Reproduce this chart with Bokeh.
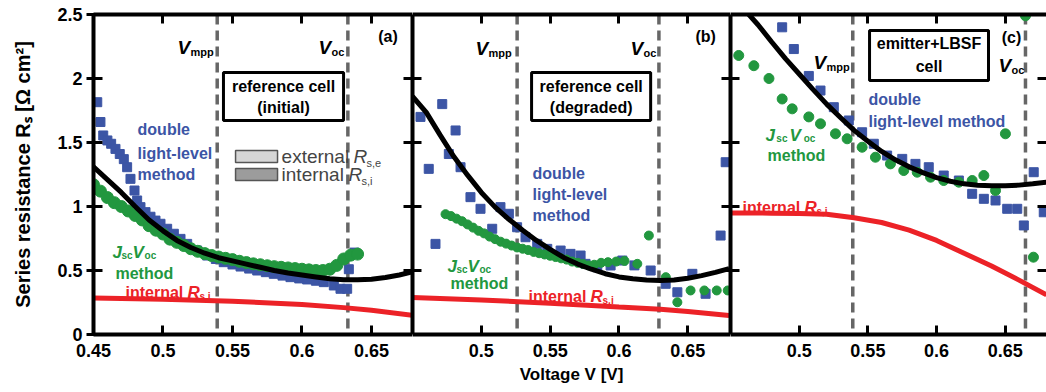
from bokeh.plotting import figure
from bokeh.models import (Range1d, LinearAxis, FixedTicker, Span, BoxAnnotation, Label,
                          CustomJSTickFormatter)
from bokeh.layouts import row
from bokeh.embed import file_html
from bokeh.resources import INLINE

FONT = "Liberation Sans"
BLUE = "#3c55a5"
GREEN = "#22973f"
RED = "#ec2227"
DASHC = "#666666"

x_ticks = [0.45, 0.5, 0.55, 0.6, 0.65]
y_ticks = [0, 0.5, 1, 1.5, 2, 2.5]

# ---------------- panel (a): reference cell (initial) ----------------
a_vmpp, a_voc = 0.539, 0.633
a_fit_v = [0.45, 0.46, 0.47, 0.48, 0.49, 0.50, 0.51, 0.52, 0.53, 0.54, 0.55, 0.56,
           0.57, 0.58, 0.59, 0.60, 0.61, 0.62, 0.63, 0.64, 0.65, 0.66, 0.67, 0.68]
a_fit_r = [1.31, 1.21, 1.11, 1.00, 0.895, 0.81, 0.735, 0.68, 0.635, 0.60, 0.575, 0.55,
           0.525, 0.50, 0.48, 0.465, 0.45, 0.435, 0.428, 0.427, 0.432, 0.445, 0.465, 0.49]
a_int_v = [0.45, 0.50, 0.55, 0.60, 0.63, 0.65, 0.68]
a_int_r = [0.285, 0.275, 0.26, 0.235, 0.21, 0.19, 0.15]
a_dll_v = [0.4527, 0.455, 0.457, 0.460, 0.4627, 0.4658, 0.4689, 0.4718, 0.4742, 0.4766,
           0.4795, 0.4814, 0.4838, 0.4874, 0.491, 0.4946, 0.4982, 0.503, 0.5078, 0.5126,
           0.5174, 0.5246, 0.5318, 0.538, 0.5437, 0.55, 0.5558, 0.562, 0.5678, 0.574,
           0.5797, 0.586, 0.5917, 0.598, 0.6037, 0.61, 0.6157, 0.6229, 0.6277, 0.6325,
           0.6337, 0.6378]
a_dll_r = [1.815, 1.66, 1.555, 1.516, 1.49, 1.45, 1.41, 1.37, 1.307, 1.216,
           1.125, 1.047, 0.995, 0.956, 0.92, 0.89, 0.865, 0.826, 0.787, 0.747,
           0.708, 0.656, 0.617, 0.59, 0.565, 0.547, 0.531, 0.515, 0.50, 0.487,
           0.474, 0.46, 0.448, 0.438, 0.43, 0.42, 0.409, 0.383, 0.357, 0.357,
           0.51, 0.64]
a_jsc_v = [0.450, 0.455, 0.460, 0.465, 0.470, 0.475, 0.480, 0.485, 0.490, 0.495,
           0.500, 0.505, 0.510, 0.515, 0.520, 0.525, 0.530, 0.535, 0.540, 0.545,
           0.550, 0.555, 0.560, 0.565, 0.570, 0.575, 0.580, 0.585, 0.590, 0.595,
           0.600, 0.605, 0.610, 0.615, 0.620, 0.625, 0.630, 0.635, 0.640]
a_jsc_r = [1.17, 1.12, 1.07, 1.03, 1.00, 0.965, 0.93, 0.895, 0.85, 0.815,
           0.785, 0.745, 0.72, 0.695, 0.67, 0.65, 0.632, 0.617, 0.605, 0.595,
           0.585, 0.572, 0.562, 0.552, 0.545, 0.537, 0.53, 0.525, 0.52, 0.515,
           0.51, 0.505, 0.50, 0.50, 0.51, 0.54, 0.59, 0.62, 0.628]

# ---------------- panel (b): reference cell (degraded) ----------------
b_vmpp, b_voc = 0.526, 0.629
b_fit_v = [0.45, 0.46, 0.47, 0.48, 0.49, 0.50, 0.51, 0.52, 0.53, 0.54, 0.55, 0.56,
           0.57, 0.58, 0.59, 0.60, 0.61, 0.62, 0.63, 0.64, 0.65, 0.66, 0.67, 0.68]
b_fit_r = [1.86, 1.735, 1.56, 1.39, 1.245, 1.11, 0.995, 0.90, 0.815, 0.735, 0.665, 0.60,
           0.55, 0.51, 0.475, 0.45, 0.435, 0.425, 0.422, 0.425, 0.44, 0.46, 0.485, 0.515]
b_int_v = [0.45, 0.50, 0.55, 0.60, 0.63, 0.65, 0.68]
b_int_r = [0.29, 0.27, 0.245, 0.215, 0.198, 0.18, 0.148]
b_dll_v = [0.4558, 0.4618, 0.4667, 0.4716, 0.4764, 0.4813, 0.4849, 0.4921, 0.4994, 0.5079,
           0.5139, 0.520, 0.526, 0.5321, 0.5406, 0.5479, 0.5576, 0.5648, 0.5721, 0.5757,
           0.5842, 0.5939, 0.6024, 0.6112, 0.623, 0.6339, 0.6424, 0.6533, 0.6629, 0.6738,
           0.6775]
b_dll_r = [1.70, 1.294, 0.708, 1.80, 1.41, 1.594, 1.307, 1.073, 0.982, 0.826,
           0.995, 0.943, 0.838, 0.76, 0.708, 0.669, 0.656, 0.63, 0.617, 0.552,
           0.526, 0.539, 0.578, 0.54, 0.50, 0.396, 0.33, 0.474, 0.318, 0.773,
           1.346]
b_jsc_v = [0.474, 0.478, 0.482, 0.486, 0.490, 0.494, 0.498, 0.502, 0.506, 0.510,
           0.514, 0.518, 0.522, 0.526, 0.530, 0.534, 0.538, 0.542, 0.546, 0.550,
           0.554, 0.558, 0.562, 0.566, 0.570, 0.574, 0.578, 0.582, 0.587, 0.592,
           0.598, 0.604, 0.6133, 0.6217, 0.634, 0.6424, 0.652, 0.662, 0.671, 0.679]
b_jsc_r = [0.94, 0.925, 0.905, 0.885, 0.86, 0.835, 0.81, 0.79, 0.765, 0.745,
           0.725, 0.71, 0.695, 0.68, 0.67, 0.66, 0.645, 0.635, 0.625, 0.615,
           0.605, 0.595, 0.585, 0.57, 0.56, 0.55, 0.54, 0.545, 0.56, 0.565,
           0.57, 0.575, 0.552, 0.773, 0.448, 0.252, 0.344, 0.344, 0.344, 0.344]

# ---------------- panel (c): emitter+LBSF cell ----------------
c_vmpp, c_voc = 0.539, 0.6647
c_fit_v = [0.45, 0.46, 0.47, 0.48, 0.49, 0.50, 0.51, 0.52, 0.53, 0.54, 0.55, 0.56,
           0.57, 0.58, 0.59, 0.60, 0.61, 0.62, 0.63, 0.64, 0.65, 0.66, 0.67, 0.68]
c_fit_r = [2.66, 2.54, 2.42, 2.285, 2.155, 2.035, 1.915, 1.80, 1.695, 1.595, 1.51, 1.43,
           1.365, 1.31, 1.265, 1.225, 1.197, 1.177, 1.166, 1.162, 1.162, 1.167, 1.177, 1.19]
c_int_v = [0.45, 0.48, 0.50, 0.52, 0.54, 0.56, 0.58, 0.60, 0.62, 0.64, 0.66, 0.68]
c_int_r = [0.95, 0.948, 0.945, 0.94, 0.912, 0.875, 0.815, 0.735, 0.635, 0.535, 0.425, 0.31]
c_dll_v = [0.4876, 0.4961, 0.507, 0.5155, 0.5252, 0.5361, 0.5458, 0.5543, 0.564, 0.575,
           0.5846, 0.5943, 0.6052, 0.6162, 0.6259, 0.6344, 0.6429, 0.6514, 0.6587, 0.6635,
           0.6707, 0.678]
c_dll_r = [2.40, 2.23, 2.02, 1.906, 1.776, 1.672, 1.58, 1.49, 1.398, 1.372,
           1.333, 1.307, 1.242, 1.203, 1.099, 1.06, 1.047, 0.982, 0.982, 0.852,
           1.268, 0.955]
c_jsc_v = [0.456, 0.467, 0.478, 0.4876, 0.4949, 0.507, 0.5155, 0.5264, 0.5349, 0.5458,
           0.5555, 0.5664, 0.5761, 0.5859, 0.5956, 0.6052, 0.6162, 0.6259, 0.6344, 0.6429,
           0.6501, 0.6647, 0.6705]
c_jsc_r = [2.18, 2.10, 2.00, 1.84, 1.763, 1.70, 1.646, 1.568, 1.529, 1.463,
           1.385, 1.333, 1.281, 1.268, 1.229, 1.203, 1.19, 1.203, 1.242, 1.125,
           1.568, 2.49, 0.604]

FMT = CustomJSTickFormatter(code="return String(tick);")
EMPTY = CustomJSTickFormatter(code="return '';")


def axis(ticks, labels=False, tick_out=0, standoff=0, line=True):
    ax = LinearAxis(ticker=FixedTicker(ticks=ticks), formatter=FMT if labels else EMPTY)
    ax.major_tick_in = 9
    ax.major_tick_out = tick_out
    ax.minor_tick_line_color = None
    ax.major_tick_line_width = 3
    ax.major_tick_line_color = "black"
    ax.major_tick_line_alpha = 1.0
    ax.axis_line_width = 4
    ax.axis_line_alpha = 1.0
    ax.axis_line_color = "black" if line else None
    ax.major_label_text_font = FONT
    ax.major_label_text_font_style = "bold"
    ax.major_label_text_color = "black"
    ax.major_label_text_font_size = "18px" if labels else "0px"
    ax.major_label_standoff = standoff
    return ax


def lab(p, x, y, s, size, color="black", style="bold", align="left", base="middle",
        xo=0, yo=0):
    p.add_layout(Label(x=x, y=y, text=s, x_offset=xo, y_offset=yo, text_font=FONT,
                       text_font_size=f"{size}px", text_font_style=style,
                       text_color=color, text_align=align, text_baseline=base))


def vsub(p, x, y, sub, xs=13):
    lab(p, x, y, "V", 19, style="bold italic", base="alphabetic")
    lab(p, x, y, sub, 11, base="alphabetic", xo=xs, yo=-4)


def jsc(p, x, y, k=1.0):
    lab(p, x, y, "J", 17, GREEN, "bold italic", base="alphabetic")
    lab(p, x, y, "sc", 10, GREEN, "bold", base="alphabetic", xo=9 * k, yo=-3)
    lab(p, x, y, "V", 17, GREEN, "bold italic", base="alphabetic", xo=20 * k)
    lab(p, x, y, "oc", 10, GREEN, "bold", base="alphabetic", xo=31 * k + 1, yo=-3)


def intr(p, x, y):
    lab(p, x, y, "internal", 16, RED, "bold", base="alphabetic")
    lab(p, x, y, "R", 17, RED, "bold italic", base="alphabetic", xo=62)
    lab(p, x, y, "s,i", 10, RED, "bold", base="alphabetic", xo=74, yo=-4)


def box(p, l, r, b, t, fill=None, lc="black", lw=3):
    p.add_layout(BoxAnnotation(left=l, right=r, bottom=b, top=t, fill_color=fill,
                               fill_alpha=1.0, line_color=lc, line_alpha=1.0,
                               line_width=lw, level="overlay"))


def panel(width, x_end, min_left, fit_v, fit_r, int_v, int_r, dll_v, dll_r, jsc_v, jsc_r,
          vmpp, voc, first=False, right_line=True, xlabel=None, dot=9):
    p = figure(width=width, height=392, x_range=Range1d(0.45, x_end),
               y_range=Range1d(0, 2.5), output_backend="svg", toolbar_location=None,
               x_axis_location=None, y_axis_location=None,
               min_border_left=min_left, min_border_right=0, min_border_top=14,
               min_border_bottom=58)
    p.outline_line_color = None
    p.xgrid.visible = False
    p.ygrid.visible = False
    p.background_fill_color = "white"
    p.border_fill_color = "white"

    xt = x_ticks if first else x_ticks[1:]
    bottom = axis(xt, labels=True, standoff=9)
    if xlabel:
        bottom.axis_label = xlabel
        bottom.axis_label_text_font = FONT
        bottom.axis_label_text_font_style = "bold"
        bottom.axis_label_text_font_size = "17px"
        bottom.axis_label_text_color = "black"
        bottom.axis_label_standoff = 5
    p.add_layout(bottom, "below")
    p.add_layout(axis(x_ticks[1:]), "above")
    if first:
        left = axis(y_ticks, labels=True, tick_out=7, standoff=4)
        left.axis_label = "Series resistance R\u209b [\u03a9 cm\u00b2]"
        left.axis_label_text_font = FONT
        left.axis_label_text_font_style = "bold"
        left.axis_label_text_font_size = "20px"
        left.axis_label_text_color = "black"
        left.axis_label_standoff = 20
    else:
        left = axis(y_ticks[1:-1])
    p.add_layout(left, "left")
    p.add_layout(axis(y_ticks[1:-1], line=right_line), "right")

    for v in (vmpp, voc):
        p.add_layout(Span(location=v, dimension="height", line_color=DASHC, line_width=3.5,
                          line_dash="10 6", level="underlay"))

    p.scatter(dll_v, dll_r, marker="square", size=9, color=BLUE)
    p.scatter(jsc_v, jsc_r, marker="circle", size=dot, color=GREEN)
    p.line(fit_v, fit_r, line_color="black", line_width=5)
    p.line(int_v, int_r, line_color=RED, line_width=5)
    return p


pa = panel(412, 0.6795, 93, a_fit_v, a_fit_r, a_int_v, a_int_r, a_dll_v, a_dll_r,
           a_jsc_v, a_jsc_r, a_vmpp, a_voc, first=True, dot=12)
pb = panel(318, 0.681, 0, b_fit_v, b_fit_r, b_int_v, b_int_r, b_dll_v, b_dll_r,
           b_jsc_v, b_jsc_r, b_vmpp, b_voc, xlabel="Voltage V [V]", dot=9)
pc = panel(316, 0.68, 0, c_fit_v, c_fit_r, c_int_v, c_int_r, c_dll_v, c_dll_r,
           c_jsc_v, c_jsc_r, c_vmpp, c_voc, right_line=False, dot=10)

# ---- panel (a) annotations ----
vsub(pa, 0.5104, 2.242, "mpp")
vsub(pa, 0.6119, 2.242, "oc")
lab(pa, 0.6619, 2.332, "(a)", 16, align="center")
box(pa, 0.5435, 0.6299, 1.672, 2.047)
lab(pa, 0.5867, 1.9375, "reference cell", 16, align="center")
lab(pa, 0.5867, 1.773, "(initial)", 16, align="center")
box(pa, 0.5522, 0.5824, 1.344, 1.4375, fill="#d6d6d6", lc="#555555", lw=1.5)
box(pa, 0.5522, 0.5824, 1.203, 1.297, fill="#9c9c9c", lc="#555555", lw=1.5)
lab(pa, 0.5853, 1.39, "external", 19, "#444444", "normal")
lab(pa, 0.5853, 1.39, "R", 19, "#444444", "italic", xo=72)
lab(pa, 0.5853, 1.39, "s,e", 11, "#444444", "normal", xo=85, yo=-6)
lab(pa, 0.5853, 1.25, "internal", 19, "#444444", "normal")
lab(pa, 0.5853, 1.25, "R", 19, "#444444", "italic", xo=67)
lab(pa, 0.5853, 1.25, "s,i", 11, "#444444", "normal", xo=80, yo=-6)
lab(pa, 0.4817, 1.605, "double", 16, BLUE)
lab(pa, 0.4817, 1.414, "light-level", 16, BLUE)
lab(pa, 0.4817, 1.25, "method", 16, BLUE)
jsc(pa, 0.4637, 0.64)
lab(pa, 0.4658, 0.477, "method", 16, GREEN, base="alphabetic")
intr(pa, 0.473, 0.328)

# ---- panel (b) annotations ----
vsub(pb, 0.4958, 2.234, "mpp")
vsub(pb, 0.6084, 2.234, "oc")
lab(pb, 0.663, 2.332, "(b)", 16, align="center")
box(pb, 0.5365, 0.623, 1.672, 2.047)
lab(pb, 0.5798, 1.9375, "reference cell", 16, align="center")
lab(pb, 0.5798, 1.773, "(degraded)", 16, align="center")
lab(pb, 0.5372, 1.258, "double", 16, BLUE)
lab(pb, 0.5372, 1.094, "light-level", 16, BLUE)
lab(pb, 0.5372, 0.93, "method", 16, BLUE)
jsc(pb, 0.4754, 0.53)
lab(pb, 0.4776, 0.40, "method", 16, GREEN, base="alphabetic")
intr(pb, 0.5343, 0.297)

# ---- panel (c) annotations ----
vsub(pc, 0.5104, 2.125, "mpp")
lab(pc, 0.6545, 2.324, "(c)", 16, align="center")
vsub(pc, 0.645, 2.10, "oc")
box(pc, 0.5512, 0.6378, 1.984, 2.375)
lab(pc, 0.5945, 2.273, "emitter+LBSF", 16, align="center")
lab(pc, 0.5945, 2.094, "cell", 16, align="center")
lab(pc, 0.5504, 1.836, "double", 16, BLUE)
lab(pc, 0.5504, 1.664, "light-level method", 16, BLUE)
jsc(pc, 0.4755, 1.555, k=1.2)
lab(pc, 0.477, 1.40, "method", 16, GREEN, base="alphabetic")
intr(pc, 0.4587, 0.99)

layout = row(pa, pb, pc, spacing=0)
open("out.html", "w").write(file_html(layout, INLINE))
